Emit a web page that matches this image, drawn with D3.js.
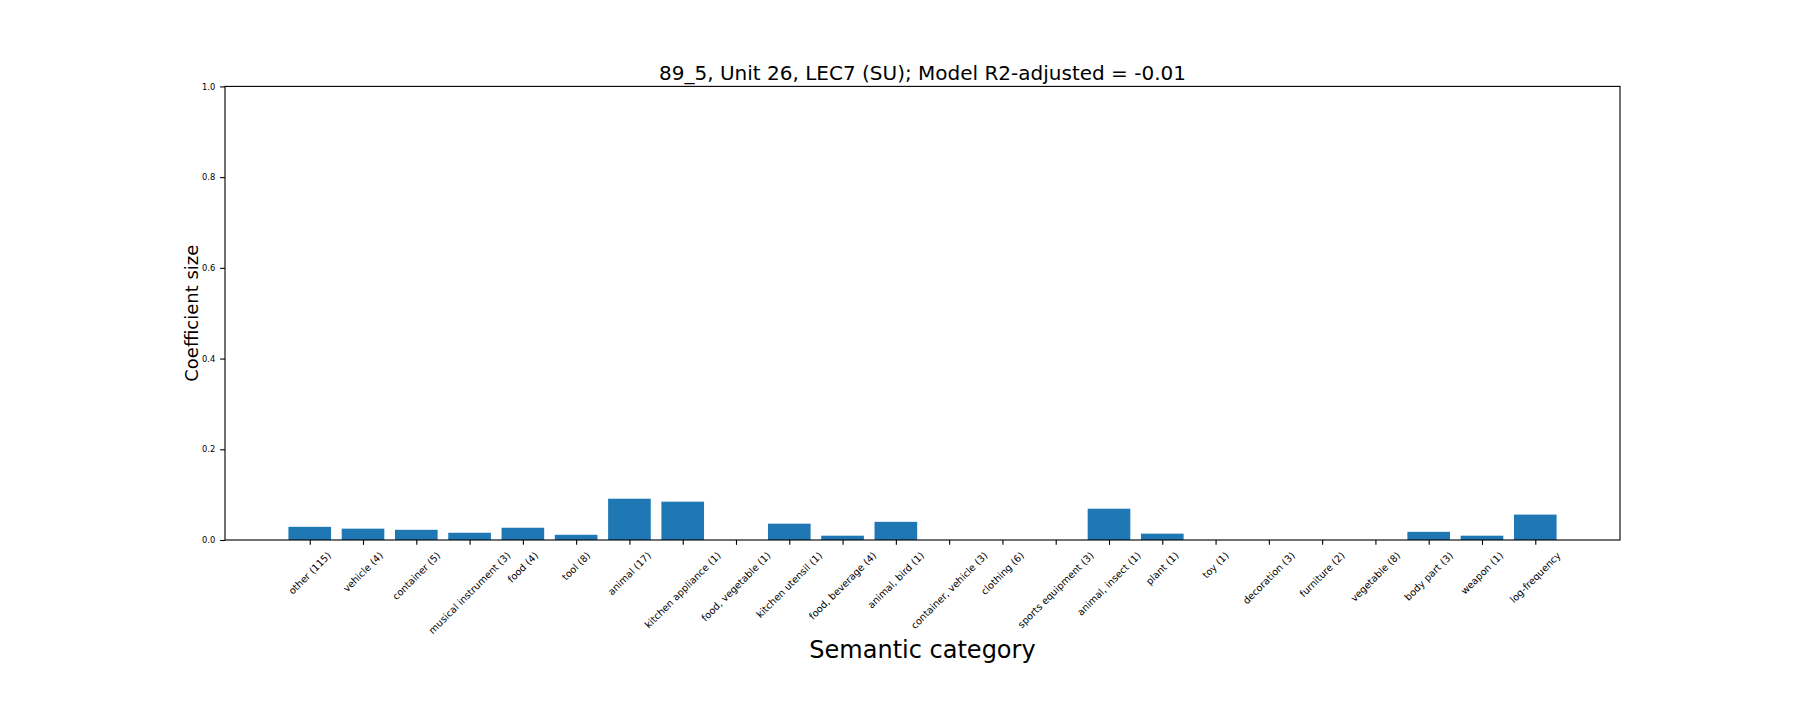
<!DOCTYPE html>
<html>
<head>
<meta charset="utf-8">
<script src="https://cdn.jsdelivr.net/npm/d3@7"></script>
<style>
  body { margin: 0; background: #fff; }
  text { font-family: "DejaVu Sans", sans-serif; fill: #000; }
</style>
</head>
<body>
<div id="chart"></div>
<script>
// Data
var categories = ["other (115)", "vehicle (4)", "container (5)", "musical instrument (3)", "food (4)",
  "tool (8)", "animal (17)", "kitchen appliance (1)", "food, vegetable (1)", "kitchen utensil (1)",
  "food, beverage (4)", "animal, bird (1)", "container, vehicle (3)", "clothing (6)",
  "sports equipment (3)", "animal, insect (1)", "plant (1)", "toy (1)", "decoration (3)",
  "furniture (2)", "vegetable (8)", "body part (3)", "weapon (1)", "log-frequency"];
var coefValues = [0.029, 0.025, 0.0225, 0.016, 0.027, 0.0115, 0.091, 0.0845, 0, 0.036,
  0.0095, 0.040, 0, 0, 0, 0.069, 0.014, 0, 0, 0, 0, 0.018, 0.0095, 0.056];
var yTicks = [0, 0.2, 0.4, 0.6, 0.8, 1.0];
var titleText = "89_5, Unit 26, LEC7 (SU); Model R2-adjusted = -0.01";

// Layout (matplotlib-like, 100 dpi)
var width = 1800, height = 720;
var plotLeft = 225, plotRight = 1620, plotTop = 86.4, plotBottom = 540;
var pt = 100 / 72;
var tickLen = 3.5 * pt, tickPad = 3.5 * pt;
var barWidth = 0.8;
var n = categories.length;
var xPad = 0.05 * (n - 1 + barWidth);

var svg = d3.select("#chart").append("svg")
    .attr("width", width)
    .attr("height", height);

var xScale = d3.scaleLinear()
    .domain([-barWidth / 2 - xPad, n - 1 + barWidth / 2 + xPad])
    .range([plotLeft, plotRight]);
var yScale = d3.scaleLinear().domain([0, 1]).range([plotBottom, plotTop]);

// Bars
svg.append("g").selectAll("rect")
    .data(coefValues)
    .enter().append("rect")
    .attr("x", function(d, i){ return xScale(i - barWidth / 2); })
    .attr("width", function(){ return xScale(barWidth) - xScale(0); })
    .attr("y", function(d){ return yScale(d); })
    .attr("height", function(d){ return yScale(0) - yScale(d); })
    .attr("fill", "#1f77b4");

// Y axis
var yAxis = d3.axisLeft(yScale)
    .tickValues(yTicks)
    .tickFormat(d3.format(".1f"))
    .tickSize(tickLen)
    .tickPadding(tickPad);
var yG = svg.append("g").attr("transform", "translate(" + plotLeft + ",0)").call(yAxis);
yG.select(".domain").remove();
yG.selectAll(".tick line").attr("stroke", "#000").attr("stroke-width", 0.8 * pt);
yG.selectAll(".tick text").attr("font-size", 6 * pt).attr("font-family", "DejaVu Sans");

// X axis ticks
var xAxis = d3.axisBottom(xScale)
    .tickValues(d3.range(n))
    .tickFormat("")
    .tickSize(tickLen);
var xG = svg.append("g").attr("transform", "translate(0," + plotBottom + ")").call(xAxis);
xG.select(".domain").remove();
xG.selectAll(".tick line").attr("stroke", "#000").attr("stroke-width", 0.8 * pt);

// Rotated x tick labels: bbox centered on tick, top at tick + pad
var xFont = 7 * pt;
var labelTop = plotBottom + tickLen + tickPad;
var labels = svg.append("g").selectAll("text")
    .data(categories)
    .enter().append("text")
    .attr("font-size", xFont)
    .attr("text-anchor", "middle")
    .attr("dy", "0.35em")
    .text(function(d){ return d; });
labels.each(function(d, i){
    var w = this.getComputedTextLength();
    var h = 1.164 * xFont;
    var half = (w + h) / (2 * Math.SQRT2);
    d3.select(this).attr("transform",
        "translate(" + xScale(i) + "," + (labelTop + half) + ")rotate(-45)");
});

// Frame
svg.append("rect")
    .attr("x", plotLeft).attr("y", plotTop)
    .attr("width", plotRight - plotLeft).attr("height", plotBottom - plotTop)
    .attr("fill", "none")
    .attr("stroke", "#000")
    .attr("stroke-width", 0.8 * pt);

// Title and axis labels
svg.append("text")
    .attr("x", (plotLeft + plotRight) / 2)
    .attr("y", 80)
    .attr("text-anchor", "middle")
    .attr("font-size", 20)
    .text(titleText);

svg.append("text")
    .attr("x", (plotLeft + plotRight) / 2)
    .attr("y", 657.5)
    .attr("text-anchor", "middle")
    .attr("font-size", 24)
    .text("Semantic category");

svg.append("text")
    .attr("transform", "translate(197.5," + (plotTop + plotBottom) / 2 + ")rotate(-90)")
    .attr("text-anchor", "middle")
    .attr("font-size", 18)
    .text("Coefficient size");
</script>
</body>
</html>
